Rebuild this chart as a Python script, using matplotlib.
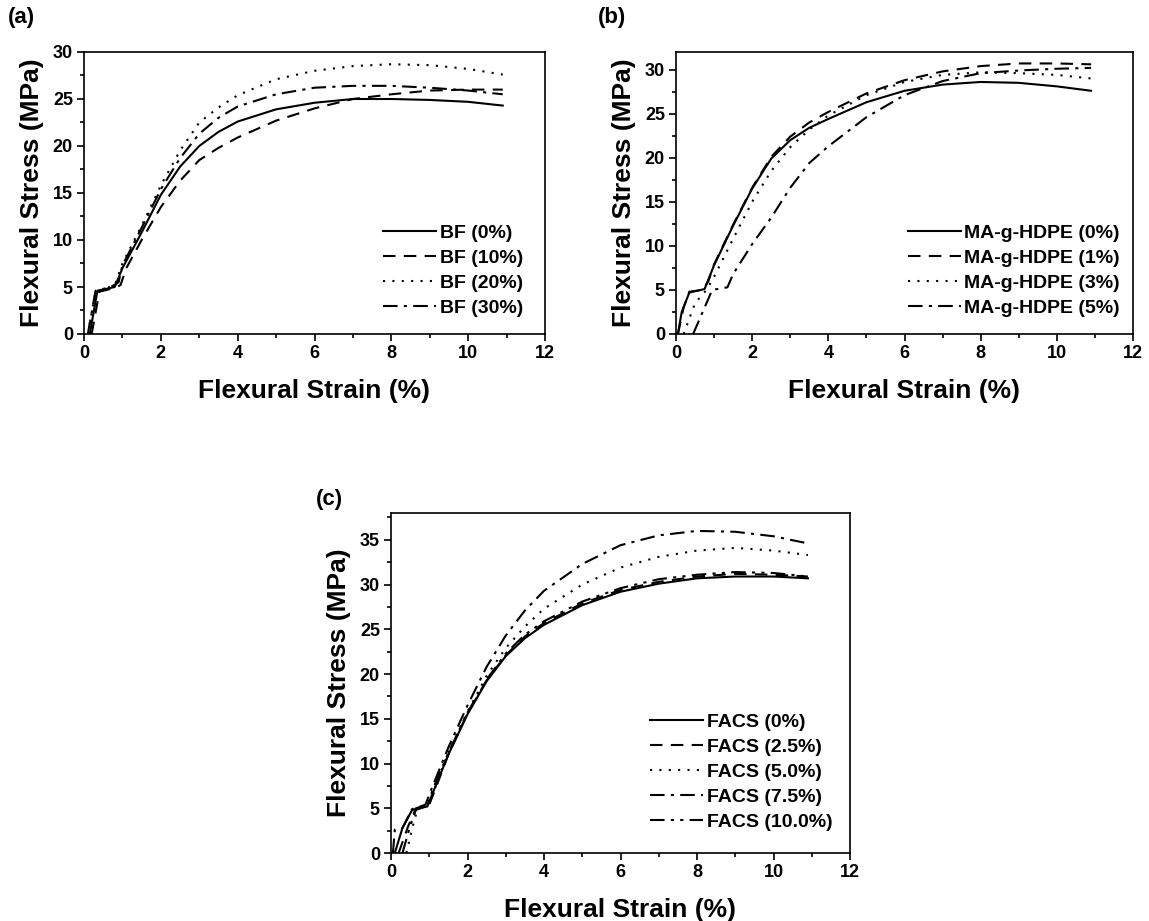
import matplotlib
matplotlib.use("Agg")
import matplotlib.pyplot as plt
from matplotlib.ticker import MultipleLocator

plt.rcParams['font.family'] = ['Liberation Sans', 'DejaVu Sans']
plt.rcParams['font.weight'] = 'bold'

# ---- (a) BF content ----
bf_labels = ["BF (0%)", "BF (10%)", "BF (20%)", "BF (30%)"]
bf0_x = [0.15, 0.35, 0.8, 1.0, 1.5, 2, 2.5, 3, 3.5, 4, 5, 6, 7, 8, 9, 10, 10.9]
bf0_y = [0, 4.6, 5.0, 7.0, 10.8, 14.8, 17.8, 20.0, 21.5, 22.6, 23.9, 24.6, 25.0, 25.0, 24.9, 24.7, 24.3]
bf10_x = [0.2, 0.4, 0.8, 0.95, 1.1, 1.5, 2, 2.5, 3, 3.5, 4, 5, 6, 7, 8, 9, 10, 10.9]
bf10_y = [0, 4.5, 4.9, 5.2, 7.0, 10.0, 13.5, 16.3, 18.5, 19.8, 20.9, 22.7, 24.0, 25.0, 25.5, 25.9, 26.0, 26.0]
bf20_x = [0.1, 0.3, 0.6, 0.8, 1.0, 1.5, 2, 2.5, 3, 3.5, 4, 5, 6, 7, 8, 9, 10, 10.9]
bf20_y = [0, 4.5, 4.9, 5.2, 7.5, 11.5, 15.8, 19.5, 22.5, 24.1, 25.4, 27.1, 28.0, 28.5, 28.7, 28.6, 28.2, 27.6]
bf30_x = [0.1, 0.3, 0.7, 0.9, 1.0, 1.5, 2, 2.5, 3, 3.5, 4, 5, 6, 7, 8, 9, 10, 10.9]
bf30_y = [0, 4.6, 5.0, 5.5, 7.3, 11.3, 15.4, 18.7, 21.3, 23.0, 24.2, 25.5, 26.2, 26.4, 26.4, 26.2, 25.9, 25.5]

# ---- (b) MA-g-HDPE content ----
ma_labels = ["MA-g-HDPE (0%)", "MA-g-HDPE (1%)", "MA-g-HDPE (3%)", "MA-g-HDPE (5%)"]
ma0_x = [0.05, 0.15, 0.35, 0.75, 1.0, 1.5, 2, 2.5, 3, 3.5, 4, 5, 6, 7, 8, 9, 10, 10.9]
ma0_y = [0, 2.5, 4.7, 5.1, 7.8, 12.3, 16.5, 19.9, 22.0, 23.4, 24.4, 26.3, 27.6, 28.3, 28.6, 28.5, 28.1, 27.6]
ma1_x = [0.05, 0.2, 0.35, 0.7, 0.85, 1.0, 1.5, 2, 2.5, 3, 3.5, 4, 5, 6, 7, 8, 9, 10, 10.9]
ma1_y = [0, 3.0, 4.8, 5.0, 6.0, 7.9, 12.4, 16.6, 20.1, 22.4, 24.0, 25.2, 27.3, 28.8, 29.8, 30.4, 30.7, 30.7, 30.6]
ma3_x = [0.2, 0.5, 0.8, 1.0, 1.5, 2, 2.5, 3, 3.5, 4, 5, 6, 7, 8, 9, 10, 10.9]
ma3_y = [0, 3.5, 5.0, 6.5, 10.8, 15.0, 18.5, 21.2, 23.2, 24.8, 27.1, 28.6, 29.4, 29.7, 29.6, 29.4, 29.0]
ma5_x = [0.45, 0.6, 0.75, 0.95, 1.35, 1.5, 2, 2.5, 3, 3.5, 4, 5, 6, 7, 8, 9, 10, 10.9]
ma5_y = [0, 1.5, 3.0, 5.0, 5.3, 6.8, 10.2, 13.2, 16.6, 19.4, 21.3, 24.6, 27.1, 28.7, 29.6, 29.9, 30.1, 30.2]

# ---- (c) FACS content ----
facs_labels = ["FACS (0%)", "FACS (2.5%)", "FACS (5.0%)", "FACS (7.5%)", "FACS (10.0%)"]
fa0_x = [0.1, 0.3, 0.55, 0.95, 1.1, 1.5, 2, 2.5, 3, 3.5, 4, 5, 6, 7, 8, 9, 10, 10.9]
fa0_y = [0, 2.8, 4.8, 5.2, 6.8, 11.0, 15.5, 19.2, 22.0, 24.0, 25.5, 27.7, 29.2, 30.1, 30.7, 30.9, 30.9, 30.7]
fa25_x = [0.2, 0.45, 0.65, 1.0, 1.2, 1.5, 2, 2.5, 3, 3.5, 4, 5, 6, 7, 8, 9, 10, 10.9]
fa25_y = [0, 3.0, 5.0, 5.4, 7.6, 11.0, 15.6, 19.3, 22.1, 24.2, 25.7, 27.9, 29.4, 30.3, 30.9, 31.2, 31.1, 30.9]
fa50_x = [0.4, 0.6, 0.7, 1.0, 1.2, 1.5, 2, 2.5, 3, 3.5, 4, 5, 6, 7, 8, 9, 10, 10.9]
fa50_y = [0, 3.5, 5.0, 5.6, 7.8, 11.3, 15.8, 19.8, 22.9, 25.3, 27.3, 30.0, 31.9, 33.1, 33.8, 34.1, 33.8, 33.3]
fa75_x = [0.05, 0.1, 0.3, 0.55, 0.9, 1.1, 1.5, 2, 2.5, 3, 3.5, 4, 5, 6, 7, 8, 9, 10, 10.9]
fa75_y = [0, 2.6, 2.8, 4.9, 5.4, 7.6, 11.8, 16.5, 20.8, 24.3, 27.1, 29.3, 32.3, 34.4, 35.5, 36.0, 35.9, 35.4, 34.6]
fa10_x = [0.3, 0.5, 0.65, 0.95, 1.1, 1.5, 2, 2.5, 3, 3.5, 4, 5, 6, 7, 8, 9, 10, 10.9]
fa10_y = [0, 3.0, 4.8, 5.3, 7.2, 11.2, 15.7, 19.4, 22.3, 24.4, 25.9, 28.1, 29.6, 30.6, 31.1, 31.4, 31.3, 30.9]

styles = ['-', (0, (6, 4)), (0, (1, 3.5)), (0, (7, 3, 1.5, 3)), (0, (7, 3, 1.5, 3, 1.5, 3))]

W, H = 1149, 921
fig = plt.figure(figsize=(W / 100, H / 100), dpi=100)


def px_axes(left, top, right, bottom):
    return fig.add_axes([left / W, 1 - bottom / H, (right - left) / W, (bottom - top) / H])


def draw_panel(ax, curves, labels, ymax, tag, tag_xy, leg_anchor):
    for (x, y), ls, lab in zip(curves, styles, labels):
        ax.plot(x, y, color='black', lw=1.5, ls=ls, label=lab)
    ax.set_xlim(0, 12)
    ax.set_ylim(0, ymax)
    ax.xaxis.set_major_locator(MultipleLocator(2))
    ax.xaxis.set_minor_locator(MultipleLocator(1))
    ax.yaxis.set_major_locator(MultipleLocator(5))
    ax.yaxis.set_minor_locator(MultipleLocator(2.5))
    ax.tick_params(which='both', direction='out', width=1.2, labelsize=13)
    ax.tick_params(which='major', length=5, pad=3)
    ax.tick_params(which='minor', length=3)
    for s in ax.spines.values():
        s.set_linewidth(1.2)
    ax.set_xlabel("Flexural Strain (%)", fontsize=19, fontweight='bold', labelpad=12)
    ax.set_ylabel("Flexural Stress (MPa)", fontsize=19, fontweight='bold', labelpad=6)
    ax.legend(loc='lower right', bbox_to_anchor=leg_anchor, frameon=False,
              handlelength=2.7, handletextpad=0.2, labelspacing=0.38,
              prop={'weight': 'bold', 'size': 14})
    fig.text(tag_xy[0] / W, 1 - tag_xy[1] / H, tag, fontsize=16, fontweight='bold',
             va='center', ha='left')


ax_a = px_axes(84, 52, 545, 334)
draw_panel(ax_a, [(bf0_x, bf0_y), (bf10_x, bf10_y), (bf20_x, bf20_y), (bf30_x, bf30_y)],
           bf_labels, 30, "(a)", (8, 18), (0.99, 0.0))

ax_b = px_axes(676, 52, 1133, 334)
draw_panel(ax_b, [(ma0_x, ma0_y), (ma1_x, ma1_y), (ma3_x, ma3_y), (ma5_x, ma5_y)],
           ma_labels, 32, "(b)", (598, 18), (1.01, 0.0))

ax_c = px_axes(391, 513, 850, 853)
draw_panel(ax_c, [(fa0_x, fa0_y), (fa25_x, fa25_y), (fa50_x, fa50_y), (fa75_x, fa75_y), (fa10_x, fa10_y)],
           facs_labels, 38, "(c)", (316, 499), (1.0, 0.013))

fig.savefig("out.png", dpi=100)
